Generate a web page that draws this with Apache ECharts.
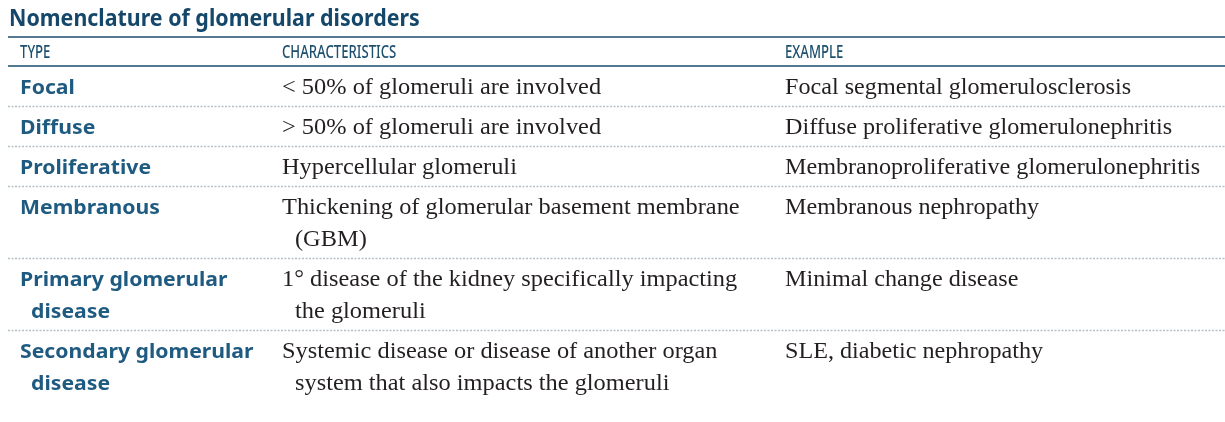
<!DOCTYPE html>
<html>
<head>
<meta charset="utf-8">
<script src="https://cdn.jsdelivr.net/npm/echarts@6/dist/echarts.min.js"></script>
<style>
  html, body { margin: 0; padding: 0; background: #fff; }
  #main { width: 1225px; height: 422px; }
</style>
</head>
<body>
<div id="main"></div>
<script>
// 表格数据
var TITLE = 'Nomenclature of glomerular disorders';
var HEADERS = ['TYPE', 'CHARACTERISTICS', 'EXAMPLE'];
var TYPES = ['Focal', 'Diffuse', 'Proliferative', 'Membranous', 'Primary glomerular\ndisease', 'Secondary glomerular\ndisease'];
var CHARACTERISTICS = [
    '< 50% of glomeruli are involved',
    '> 50% of glomeruli are involved',
    'Hypercellular glomeruli',
    'Thickening of glomerular basement membrane\n(GBM)',
    '1° disease of the kidney specifically impacting\nthe glomeruli',
    'Systemic disease or disease of another organ\nsystem that also impacts the glomeruli'
];
var EXAMPLES = [
    'Focal segmental glomerulosclerosis',
    'Diffuse proliferative glomerulonephritis',
    'Membranoproliferative glomerulonephritis',
    'Membranous nephropathy',
    'Minimal change disease',
    'SLE, diabetic nephropathy'
];

var chart = echarts.init(document.getElementById('main'));

var colX = [20, 282, 785];
var lineLeft = 8, lineRight = 1225;
var lineH = 32;
var elements = [];

// 标题
elements.push({
    type: 'text', x: 9, y: 19, scaleX: 0.93,
    style: { text: TITLE, fill: '#14476a', font: 'bold 23px "Noto Sans"', textVerticalAlign: 'middle' }
});
// 表头上下实线
[37, 66].forEach(function (y) {
    elements.push({
        type: 'line',
        shape: { x1: lineLeft, y1: y, x2: lineRight, y2: y },
        style: { stroke: '#1b4d6b', lineWidth: 1.5 }
    });
});
// 表头（窄体字用 scaleX 压扁）
HEADERS.forEach(function (h, i) {
    elements.push({
        type: 'text', x: colX[i], y: 52.5, scaleX: 0.73,
        style: { text: h, fill: '#1d4f6e', font: '500 18px "Noto Sans"', textVerticalAlign: 'middle' }
    });
});

// 每一行
function cellLines(str, x, rowTop, font, color, indent, sx) {
    str.split('\n').forEach(function (t, k) {
        elements.push({
            type: 'text', x: x + (k > 0 ? indent : 0), y: rowTop + 21 + k * lineH, scaleX: sx,
            style: { text: t, fill: color, font: font, textVerticalAlign: 'middle' }
        });
    });
}
var rowY = 67;
TYPES.forEach(function (t, i) {
    var n = Math.max(t.split('\n').length, CHARACTERISTICS[i].split('\n').length, EXAMPLES[i].split('\n').length);
    cellLines(t, colX[0], rowY, 'bold 20px "Noto Sans"', '#1f5a80', 11, 1.06);
    cellLines(CHARACTERISTICS[i], colX[1], rowY, '23px "Liberation Serif"', '#231f20', 13, 1.06);
    cellLines(EXAMPLES[i], colX[2], rowY, '23px "Liberation Serif"', '#231f20', 13, 1.05);
    rowY += (n - 1) * lineH + 40;
    if (i < TYPES.length - 1) {
        elements.push({
            type: 'line',
            shape: { x1: lineLeft, y1: rowY - 0.5, x2: lineRight, y2: rowY - 0.5 },
            style: { stroke: '#b3c1c9', lineWidth: 1.5, lineDash: [2, 1.5] }
        });
    }
});

var option = {
    backgroundColor: '#fff',
    graphic: { elements: elements }
};
chart.setOption(option);
</script>
</body>
</html>
